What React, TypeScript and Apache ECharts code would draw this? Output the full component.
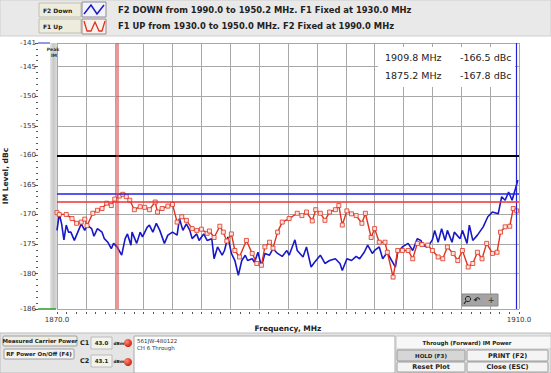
import React, { useEffect, useRef } from "react";
import * as echarts from "echarts";

// ---------- data ----------
const yTickValues = [-186, -180, -175, -170, -165, -160, -155, -150, -145, -141];
const xEndLabels = [1870, 1910];
const xMin = 1870;
const xMax = 1910;
const yMin = -186;
const yMax = -141;

const f2DownFreq = [
  1870.0, 1870.2, 1870.4, 1870.6, 1870.8, 1871.0, 1871.2, 1871.5, 1871.8, 1872.1,
  1872.4, 1872.6, 1873.0, 1873.2, 1873.5, 1873.9, 1874.1, 1874.4, 1874.7, 1874.9,
  1875.2, 1875.6, 1875.9, 1876.1, 1876.4, 1876.5, 1876.9, 1877.2, 1877.4, 1877.8,
  1878.0, 1878.3, 1878.6, 1878.9, 1879.3, 1879.6, 1880.0, 1880.4, 1880.6, 1880.9,
  1881.2, 1881.5, 1881.7, 1882.1, 1882.3, 1882.7, 1883.0, 1883.4, 1883.6, 1883.9,
  1884.3, 1884.5, 1884.8, 1885.1, 1885.4, 1885.7, 1886.0, 1886.3, 1886.5, 1886.9,
  1887.1, 1887.4, 1887.7, 1888.0, 1888.4, 1888.7, 1889.1, 1889.5, 1889.9, 1890.1,
  1890.6, 1890.8, 1891.3, 1891.6, 1892.0, 1892.3, 1892.8, 1893.2, 1893.6, 1894.1,
  1894.5, 1894.7, 1895.1, 1895.5, 1895.9, 1896.2, 1896.6, 1896.9, 1897.3, 1897.5,
  1897.9, 1898.2, 1898.6, 1898.8, 1899.3, 1899.5, 1899.9, 1900.4, 1900.8, 1901.2,
  1901.5, 1901.7, 1902.0, 1902.3, 1902.5, 1902.7, 1903.0, 1903.3, 1903.6, 1903.8,
  1904.2, 1904.4, 1904.9, 1905.1, 1905.5, 1905.7, 1906.0, 1906.4, 1906.9, 1907.3,
  1907.7, 1908.2, 1908.5, 1908.8, 1909.1, 1909.4, 1909.7, 1909.9,
];
const f2DownLevel = [
  -172.7, -169.9, -171.6, -174.3, -171.8, -173, -173, -174.4, -173, -171.6,
  -172.7, -171.8, -172.4, -173.7, -172.4, -173, -174.1, -174.7, -175.8, -174.9,
  -175.5, -176.9, -174.1, -173.3, -175.2, -173, -174.9, -173, -173.8, -172.2,
  -171.8, -173, -171.5, -172.7, -174.9, -173.5, -173, -173.5, -170.7, -172.7,
  -171.6, -172.7, -174.1, -173.3, -174.4, -173.3, -174.4, -174.1, -177.5, -175.5,
  -176.9, -176.1, -173.8, -176.6, -177.8, -180.3, -177.8, -176.9, -177.8, -177.5,
  -178.1, -176.4, -178.8, -176.6, -176.9, -175.8, -176.6, -177.1, -176.1, -176.9,
  -174.3, -176.1, -177.2, -175.5, -178.9, -178.1, -176.9, -178.3, -177.8, -177.5,
  -178.3, -179.5, -177.5, -177.8, -177.1, -177.5, -176.4, -175.2, -176.6, -176.1,
  -175.5, -177.5, -176.4, -177.2, -178.9, -176.4, -175.5, -174.9, -176.1, -174.1,
  -174.4, -175.2, -175.5, -174.9, -174.3, -172.7, -174.7, -172.4, -174.4, -172.7,
  -174.7, -173, -174.1, -172.7, -174.9, -171.8, -174.4, -173.5, -172.1, -170.4,
  -169.6, -169.9, -167, -167.6, -166.2, -167.6, -165.6, -164.2,
];

const f1UpFreq = [
  1870.0, 1870.2, 1870.8, 1871.3, 1871.7, 1872.1, 1872.4, 1872.6, 1873.1, 1873.5,
  1873.9, 1874.3, 1874.7, 1875.0, 1875.4, 1875.7, 1876.0, 1876.3, 1876.7, 1877.2,
  1877.6, 1878.0, 1878.5, 1878.7, 1879.1, 1879.6, 1880.0, 1880.4, 1880.8, 1881.2,
  1881.7, 1882.1, 1882.5, 1883.0, 1883.2, 1883.6, 1884.1, 1884.4, 1884.7, 1885.1,
  1885.4, 1885.8, 1886.4, 1886.9, 1887.3, 1887.7, 1888.0, 1888.4, 1888.7, 1889.1,
  1889.5, 1890.1, 1890.8, 1891.2, 1891.6, 1892.1, 1892.4, 1892.8, 1893.2, 1893.6,
  1894.1, 1894.4, 1894.7, 1895.1, 1895.5, 1895.9, 1896.4, 1896.7, 1897.2, 1897.5,
  1897.9, 1898.4, 1898.6, 1899.1, 1899.5, 1899.9, 1900.4, 1900.8, 1901.2, 1901.6,
  1902.1, 1902.5, 1903.0, 1903.4, 1903.8, 1904.3, 1904.7, 1905.1, 1905.6, 1906.0,
  1906.4, 1906.8, 1907.2, 1907.7, 1908.1, 1908.4, 1908.8, 1909.2, 1909.5, 1909.8,
];
const f1UpLevel = [
  -169.7, -170, -170, -170.7, -171.5, -171.3, -170.8, -171.9, -169.8, -169.3,
  -169, -168.1, -168.5, -167.4, -166.9, -166.6, -167, -167.6, -169.2, -168.7,
  -168.8, -169.2, -167.9, -169.6, -169, -168.6, -168.3, -171.3, -170.4, -171,
  -172.4, -172.7, -172.5, -173.2, -172.8, -173.9, -172, -173, -174.5, -173.3,
  -176.1, -177.2, -174.4, -176.6, -178.3, -178.6, -175.5, -174.7, -175.7, -173,
  -171.3, -170.7, -169.8, -170.2, -169.6, -171.1, -169.2, -169.8, -171, -169.6,
  -169.2, -168.5, -171.8, -169.4, -169.9, -170.2, -171.5, -169.8, -173.9, -172.4,
  -174.7, -174.7, -176.4, -180.6, -176.1, -176.1, -176.1, -177.5, -174.9, -175.1,
  -175.2, -176.1, -177.2, -177.5, -175.5, -176.6, -177.8, -176.1, -178.9, -178.3,
  -176.4, -177.5, -174.9, -176.6, -176.4, -173, -172.1, -172, -169, -169.4,
];

const markerFreq = [1909.8, 1875.2]; // blue marker, red marker
const markerLevel = [-166.5, -167.8];
const limitLevel = -160;
const carrierLabels = ["C1", "C2"];
const carrierPower = ["43.0", "43.1"];
const legendNames = ["F2 Down", "F1 Up"];
const legendTexts = [
  "F2 DOWN from 1990.0 to 1950.2 MHz. F1 Fixed at 1930.0 MHz",
  "F1 UP from 1930.0 to 1950.0 MHz. F2 Fixed at 1990.0 MHz",
];

const BLUE = "#1818c8";
const RED = "#e0321e";
const FONT = "DejaVu Sans";

function zip(a: number[], b: number[]) {
  return a.map((v, i) => [v, b[i]]);
}

export default function App() {
  const ref = useRef<HTMLDivElement>(null);

  useEffect(() => {
    if (!ref.current) return;
    const chart = echarts.init(ref.current, undefined, { renderer: "svg" });

    const btn = (x: number, y: number, w: number, h: number, label: string, fill = "#f4f4f2", fs = 5.5) => [
      { type: "rect", shape: { x, y, width: w, height: h, r: 1 }, style: { fill, stroke: "#8a8a8a", lineWidth: 0.8 }, z: 10 },
      {
        type: "text", x: x + w / 2, y: y + h / 2, z: 11,
        style: { text: label, fill: "#222", font: `bold ${fs}px ${FONT}`, align: "center", verticalAlign: "middle" },
      },
    ];

    const redDot = (cy: number) => ({
      type: "circle", shape: { cx: 128, cy, r: 4 }, z: 11,
      style: { fill: new echarts.graphic.RadialGradient(0.35, 0.35, 0.7, [{ offset: 0, color: "#ff8a7a" }, { offset: 1, color: "#d01800" }]) },
    });

    const graphic: any[] = [
      // top strip
      { type: "rect", shape: { x: 0, y: 0, width: 551, height: 36 }, style: { fill: "#e9e9e9", stroke: "#cfcfcf", lineWidth: 1 }, z: 1 },
      // legend label boxes
      { type: "rect", shape: { x: 39, y: 3, width: 42, height: 14 }, style: { fill: "#eeecdc", stroke: "#c0c0b0" }, z: 2 },
      { type: "rect", shape: { x: 39, y: 19, width: 42, height: 14 }, style: { fill: "#eeecdc", stroke: "#c0c0b0" }, z: 2 },
      { type: "text", x: 43, y: 10, z: 3, style: { text: legendNames[0], fill: "#222", font: `bold 6px ${FONT}`, verticalAlign: "middle" } },
      { type: "text", x: 43, y: 26, z: 3, style: { text: legendNames[1], fill: "#222", font: `bold 6px ${FONT}`, verticalAlign: "middle" } },
      // legend icons
      { type: "rect", shape: { x: 82, y: 2, width: 24, height: 15 }, style: { fill: "#f2f4fa", stroke: "#8a8a9a" }, z: 2 },
      { type: "rect", shape: { x: 82, y: 19, width: 24, height: 15 }, style: { fill: "#f8f2ee", stroke: "#9a8a8a" }, z: 2 },
      { type: "polyline", shape: { points: [[84, 14], [91, 5], [97, 14], [104, 5]] }, style: { stroke: BLUE, lineWidth: 1.5, fill: "none" }, z: 3 },
      { type: "polyline", shape: { points: [[84, 21], [87, 31], [91, 31], [95, 22], [99, 31], [102, 31], [105, 21]] }, style: { stroke: RED, lineWidth: 1.3, fill: "none" }, z: 3 },
      { type: "text", x: 118, y: 10, z: 3, style: { text: legendTexts[0], fill: "#222", font: `bold 8.4px ${FONT}`, verticalAlign: "middle" } },
      { type: "text", x: 118, y: 26, z: 3, style: { text: legendTexts[1], fill: "#222", font: `bold 8.4px ${FONT}`, verticalAlign: "middle" } },

      // left gray band of plot
      {
        type: "rect", shape: { x: 50, y: 43, width: 7, height: 266 }, z: 2,
        style: { fill: new echarts.graphic.LinearGradient(0, 0, 1, 0, [{ offset: 0, color: "#e4e4e4" }, { offset: 0.5, color: "#c8c8c8" }, { offset: 1, color: "#dcdcdc" }]) },
      },
      { type: "text", x: 53, y: 47, z: 20, style: { text: "Peak", fill: "#333", font: `bold 4.5px ${FONT}`, align: "center" } },
      { type: "text", x: 54, y: 53, z: 20, style: { text: "IM", fill: "#333", font: `bold 4.5px ${FONT}`, align: "center" } },
      { type: "line", shape: { x1: 38, y1: 43, x2: 50, y2: 43 }, style: { stroke: "#3030c0", lineWidth: 1 }, z: 3 },
      { type: "line", shape: { x1: 38, y1: 309, x2: 56, y2: 309 }, style: { stroke: "#2a9a2a", lineWidth: 1.5 }, z: 3 },

      // axis title
      { type: "text", x: 288, y: 328, z: 3, style: { text: "Frequency, MHz", fill: "#222", font: `bold 7.5px ${FONT}`, align: "center", verticalAlign: "middle" } },

      // marker readout box
      { type: "rect", shape: { x: 378, y: 47, width: 137, height: 40 }, style: { fill: "#ffffff" }, z: 5 },
      { type: "text", x: 385, y: 57, z: 6, style: { text: `${markerFreq[0].toFixed(1)} MHz`, fill: "#222", font: `9.5px ${FONT}`, verticalAlign: "middle" } },
      { type: "text", x: 460, y: 57, z: 6, style: { text: `${markerLevel[0].toFixed(1)} dBc`, fill: "#222", font: `9.5px ${FONT}`, verticalAlign: "middle" } },
      { type: "text", x: 385, y: 75, z: 6, style: { text: `${markerFreq[1].toFixed(1)} MHz`, fill: "#222", font: `9.5px ${FONT}`, verticalAlign: "middle" } },
      { type: "text", x: 460, y: 75, z: 6, style: { text: `${markerLevel[1].toFixed(1)} dBc`, fill: "#222", font: `9.5px ${FONT}`, verticalAlign: "middle" } },

      // zoom toolbox
      { type: "rect", shape: { x: 462, y: 294, width: 36, height: 12 }, style: { fill: "#a4a4a4", stroke: "#888" }, z: 8 },
      { type: "circle", shape: { cx: 468, cy: 299, r: 2.6 }, style: { fill: "none", stroke: "#222", lineWidth: 1 }, z: 9 },
      { type: "line", shape: { x1: 466, y1: 301, x2: 464, y2: 304 }, style: { stroke: "#222", lineWidth: 1.2 }, z: 9 },
      { type: "text", x: 477, y: 300, z: 9, style: { text: "↶", fill: "#222", font: `bold 8px ${FONT}`, align: "center", verticalAlign: "middle" } },
      { type: "text", x: 491, y: 300, z: 9, style: { text: "+", fill: "#444", font: `bold 8px ${FONT}`, align: "center", verticalAlign: "middle" } },

      // bottom panel
      { type: "rect", shape: { x: 0, y: 333, width: 551, height: 40 }, style: { fill: "#e5e5e5", stroke: "#bdbdbd" }, z: 1 },
      ...btn(3, 336, 74, 10, "Measured Carrier Power", "#efeee4"),
      ...btn(4, 349, 70, 10, "RF Power On/Off (F4)", "#f4f4f4"),
      { type: "text", x: 80, y: 343, z: 11, style: { text: carrierLabels[0], fill: "#222", font: `bold 6.5px ${FONT}`, verticalAlign: "middle" } },
      { type: "text", x: 80, y: 361, z: 11, style: { text: carrierLabels[1], fill: "#222", font: `bold 6.5px ${FONT}`, verticalAlign: "middle" } },
      { type: "rect", shape: { x: 91, y: 337, width: 21, height: 12 }, style: { fill: "#f3f3ee", stroke: "#bbb" }, z: 10 },
      { type: "rect", shape: { x: 91, y: 355, width: 21, height: 12 }, style: { fill: "#f3f3ee", stroke: "#bbb" }, z: 10 },
      { type: "text", x: 101.5, y: 343, z: 11, style: { text: carrierPower[0], fill: "#222", font: `bold 5.5px ${FONT}`, align: "center", verticalAlign: "middle" } },
      { type: "text", x: 101.5, y: 361, z: 11, style: { text: carrierPower[1], fill: "#222", font: `bold 5.5px ${FONT}`, align: "center", verticalAlign: "middle" } },
      { type: "text", x: 113.5, y: 343, z: 11, style: { text: "dBm", fill: "#222", font: `bold 4.3px ${FONT}`, verticalAlign: "middle" } },
      { type: "text", x: 113.5, y: 361, z: 11, style: { text: "dBm", fill: "#222", font: `bold 4.3px ${FONT}`, verticalAlign: "middle" } },
      redDot(343),
      redDot(362),
      { type: "rect", shape: { x: 134, y: 336, width: 261, height: 37 }, style: { fill: "#ffffff", stroke: "#aaa" }, z: 10 },
      { type: "text", x: 137, y: 338, z: 11, style: { text: "561JW-480122", fill: "#333", font: `5.5px ${FONT}` } },
      { type: "text", x: 137, y: 345, z: 11, style: { text: "CH 6 Through", fill: "#333", font: `5.5px ${FONT}` } },
      { type: "rect", shape: { x: 396, y: 336, width: 155, height: 13 }, style: { fill: "#f7f7f7", stroke: "#c8c8c8" }, z: 10 },
      { type: "text", x: 467, y: 343, z: 11, style: { text: "Through (Forward) IM Power", fill: "#222", font: `bold 5.5px ${FONT}`, align: "center", verticalAlign: "middle" } },
      ...btn(397, 350, 68, 11, "HOLD (F3)", "#d6d6d6"),
      ...btn(467, 350, 81, 11, "PRINT (F2)", "#f4f4f4", 6.5),
      ...btn(397, 362, 68, 10, "Reset Plot", "#f4f4f4", 6.5),
      ...btn(467, 362, 81, 10, "Close (ESC)", "#f4f4f4", 6.5),
    ];

    chart.setOption({
      animation: false,
      backgroundColor: "#ffffff",
      textStyle: { fontFamily: FONT },
      grid: { left: 57, top: 43, width: 462, height: 266, containLabel: false, outerBoundsMode: "none" },
      xAxis: {
        type: "value",
        min: xMin,
        max: xMax,
        interval: 2.5,
        offset: 3,
        axisLine: { show: false },
        axisTick: { show: true, length: 2, lineStyle: { color: "#555" } },
        minorTick: { show: true, splitNumber: 3, length: 2, lineStyle: { color: "#555" } },
        axisLabel: {
          fontSize: 7,
          color: "#333",
          margin: 4,
          formatter: (v: number) => (xEndLabels.includes(v) ? v.toFixed(1) : ""),
        },
        splitLine: { show: true, lineStyle: { color: "#a8a8a8", width: 1 } },
      },
      yAxis: [
        {
          type: "value",
          min: yMin,
          max: yMax,
          offset: 19,
          name: "IM Level, dBc",
          nameLocation: "middle",
          nameRotate: 90,
          nameGap: 25,
          nameTextStyle: { fontSize: 7.5, fontWeight: "bold", color: "#222", fontFamily: FONT },
          axisLine: { show: false },
          axisTick: { show: true, length: 3, customValues: yTickValues, lineStyle: { color: "#444" } },
          axisLabel: { fontSize: 7, color: "#333", margin: 2, customValues: yTickValues, formatter: (v: number) => String(v) },
          splitLine: { show: true, lineStyle: { color: "#a8a8a8", width: 1 } },
        },
        {
          type: "value",
          min: yMin,
          max: yMax,
          interval: 1,
          offset: 19,
          position: "left",
          axisLine: { show: false },
          axisTick: { show: true, length: 2, lineStyle: { color: "#555" } },
          axisLabel: { show: false },
          splitLine: { show: false },
        },
      ],
      graphic,
      series: [
        {
          name: legendNames[0],
          type: "line",
          data: zip(f2DownFreq, f2DownLevel),
          showSymbol: false,
          lineStyle: { color: BLUE, width: 1.6 },
          itemStyle: { color: BLUE },
          z: 3,
          markLine: {
            silent: true,
            symbol: ["none", "none"],
            label: { show: false },
            data: [
              { xAxis: markerFreq[0], lineStyle: { color: "#2222d8", width: 1.2, type: "solid", opacity: 1 } },
              { yAxis: markerLevel[0], lineStyle: { color: "#2020e8", width: 1.5, type: "solid", opacity: 1 } },
              { yAxis: limitLevel, lineStyle: { color: "#000000", width: 2, type: "solid", opacity: 1 } },
            ],
          },
        },
        {
          name: legendNames[1],
          type: "line",
          data: zip(f1UpFreq, f1UpLevel),
          symbol: "rect",
          symbolSize: 4,
          showSymbol: true,
          lineStyle: { color: RED, width: 1.4 },
          itemStyle: { color: "#fbe4df", borderColor: RED, borderWidth: 0.8 },
          z: 4,
          markLine: {
            silent: true,
            symbol: ["none", "none"],
            label: { show: false },
            data: [
              { xAxis: markerFreq[1], lineStyle: { color: "rgba(214,70,70,0.55)", width: 3, type: "solid", opacity: 1 } },
              { yAxis: markerLevel[1], lineStyle: { color: "#f03030", width: 1.5, type: "solid", opacity: 1 } },
            ],
          },
        },
      ],
    });

    return () => chart.dispose();
  }, []);

  return (
    <div
      ref={ref}
      style={{ position: "absolute", left: 0, top: 0, width: 551, height: 373 }}
    />
  );
}
